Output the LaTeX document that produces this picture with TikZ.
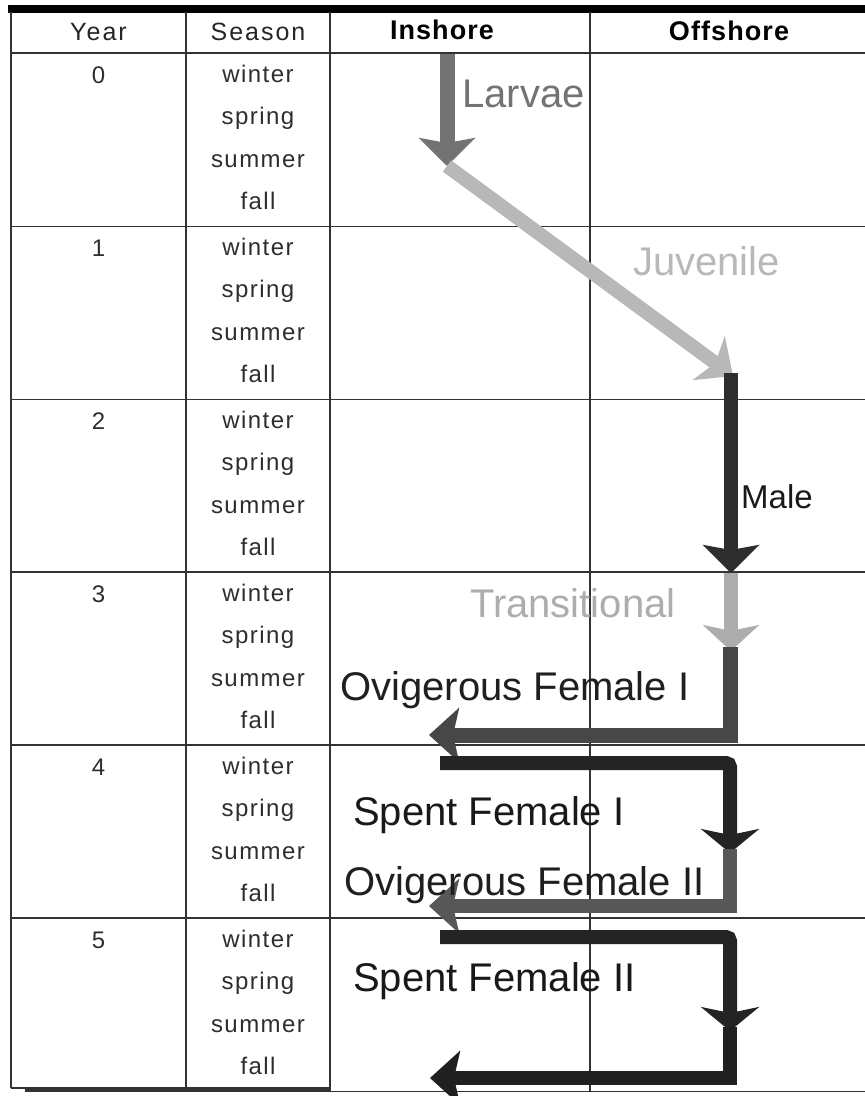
\documentclass[tikz,border=0pt]{standalone}
\usepackage{fontspec}
\setmainfont{Liberation Sans}
\usetikzlibrary{arrows.meta}
\definecolor{cLarv}{gray}{0.45}
\definecolor{cJuv}{gray}{0.72}
\definecolor{cMale}{gray}{0.18}
\definecolor{cTrans}{gray}{0.68}
\definecolor{cOv}{gray}{0.28}
\definecolor{cSpent}{gray}{0.14}
\definecolor{cOvII}{gray}{0.34}
\definecolor{cGrid}{gray}{0.2}
\begin{document}
\begin{tikzpicture}[x=1pt,y=-1pt,
  grid/.style={line width=1.5pt, draw=cGrid},
  hdr/.style={font=\fontsize{25}{30}\selectfont\addfontfeatures{LetterSpace=8}, text=black!85, inner sep=0pt, anchor=base},
  hdrb/.style={font=\bfseries\fontsize{27}{32}\selectfont\addfontfeatures{LetterSpace=4}, inner sep=0pt, anchor=base},
  cell/.style={font=\fontsize{24}{28}\selectfont\addfontfeatures{LetterSpace=6}, text=black!82, inner sep=0pt, anchor=base},
  lab/.style={font=\fontsize{40}{48}\selectfont, inner sep=0pt, anchor=base west},
  flow/.style={line width=14pt, line join=miter},
  head/.style={-{Stealth[length=28pt,width=56pt,inset=5pt]}},
]
\useasboundingbox (0,0) rectangle (865,1096);
\fill[white] (0,0) rectangle (865,1096);
\begin{scope}
\clip (0,0) rectangle (865,1096);
% top bar
\fill[black] (8,5) rectangle (865,12.7);
% vertical grid lines
\draw[grid] (11,12) -- (11,1088);
\draw[grid] (186,12) -- (186,1088);
\draw[grid] (330,12) -- (330,1092);
\draw[grid] (590,12) -- (590,1092);
% horizontal grid lines
\foreach \yy in {53,226.5,399.5,572,745,918} {
  \draw[grid] (11,\yy) -- (865,\yy);
}
\draw[grid] (11,1088) -- (330,1088);
\draw[line width=2.5pt, draw=cGrid] (25,1090.5) -- (330,1090.5);
\draw[grid] (330,1091.5) -- (865,1091.5);
% headers
\node[hdr] (hYear) at (98.5,40) {Year};
\node[hdr] (hSeason) at (258,40) {Season};
\node[hdrb] (hIn) at (442,39) {Inshore};
\node[hdrb] (hOff) at (729,40) {Offshore};
% year and season cells
\foreach \k in {0,...,5} {
  \pgfmathsetmacro{\t}{53+173*\k}
  \node[cell] (yr\k) at (98.5,\t+30) {\k};
  \node[cell] (wi\k) at (258,\t+29) {winter};
  \node[cell] (sp\k) at (258,\t+71.5) {spring};
  \node[cell] (su\k) at (258,\t+114) {summer};
  \node[cell] (fa\k) at (258,\t+156.5) {fall};
}
% arrow points
\coordinate (larvS) at (447,54);
\coordinate (larvE) at (447,166);
\coordinate (juvE) at (733,376);
\coordinate (maleS) at (731,373);
\coordinate (maleE) at (731,573);
\coordinate (transE) at (731,651);
\coordinate (ovIS) at (730,647);
\coordinate (ovIE) at (429,735);
\coordinate (spIS) at (440,763);
\coordinate (spIE) at (730,853);
\coordinate (ovIIS) at (730,849);
\coordinate (ovIIE) at (429,906);
\coordinate (spIIS) at (440,937);
\coordinate (spIIE) at (730,1031);
\coordinate (botS) at (730,1027);
\coordinate (botE) at (430,1078);
% arrows
\draw[flow, draw=cLarv, line width=15pt, head] (larvS) -- (larvE);
\draw[flow, draw=cJuv, line width=14pt, -{Stealth[length=30pt,width=54pt,inset=8pt]}] (larvE) -- (juvE);
\draw[flow, draw=cMale, head] (maleS) -- (maleE);
\draw[flow, draw=cTrans, -{Stealth[length=26pt,width=56pt,inset=6pt]}] (maleE) -- (transE);
\draw[flow, draw=cOv, line width=15pt, -{Stealth[length=30pt,width=54pt,inset=6pt]}] (ovIS) |- (ovIE);
\draw[flow, draw=cSpent, rounded corners=4pt, -{Stealth[length=24pt,width=58pt,inset=6pt]}] (spIS) -| (spIE);
\draw[flow, draw=cOvII, -{Stealth[length=30pt,width=54pt,inset=6pt]}] (ovIIS) |- (ovIIE);
\draw[flow, draw=cSpent, rounded corners=4pt, -{Stealth[length=24pt,width=58pt,inset=6pt]}] (spIIS) -| (spIIE);
\draw[flow, draw=cSpent!90!black, -{Stealth[length=30pt,width=54pt,inset=6pt]}] (botS) |- (botE);
% labels
\node[lab, text=cLarv] (tLarv) at (462,107) {Larvae};
\node[lab, text=cJuv] (tJuv) at (633,275) {Juvenile};
\node[lab, text=black!90, font=\fontsize{33}{40}\selectfont] (tMale) at (741,508) {Male};
\node[lab, text=cTrans] (tTrans) at (470,617) {Transitional};
\node[lab, text=black!88] (tOvI) at (340,700) {Ovigerous Female I};
\node[lab, text=black!90] (tSpI) at (353,825) {Spent Female I};
\node[lab, text=black!88] (tOvII) at (344,895) {Ovigerous Female II};
\node[lab, text=black!90] (tSpII) at (353,991) {Spent Female II};
\end{scope}
\end{tikzpicture}
\end{document}
